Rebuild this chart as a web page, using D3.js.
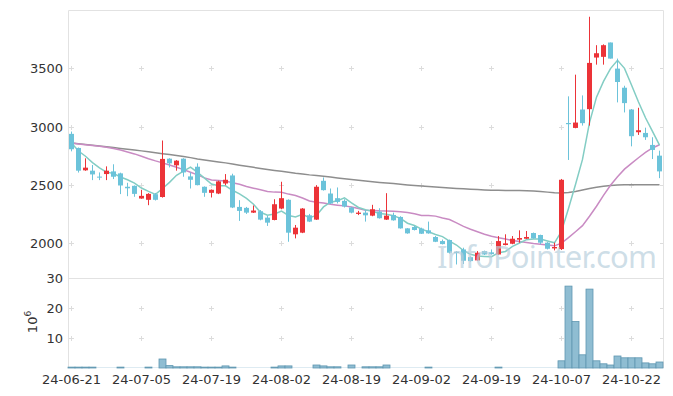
<!DOCTYPE html>
<html lang="en">
<head>
<meta charset="utf-8">
<title>Candles</title>
<style>
	body { margin: 0; background: #fff; font-family: "DejaVu Sans", sans-serif; }
	svg { display: block; }
	.tick-label { fill: #333; }
</style>
</head>
<body>
<svg></svg>
<script src="https://d3js.org/d3.v7.min.js"></script>
<script>
var dates = ["24-06-21","24-06-24","24-06-25","24-06-26","24-06-27","24-06-28","24-07-01","24-07-02","24-07-03","24-07-04",
	"24-07-05","24-07-08","24-07-09","24-07-10","24-07-11","24-07-12","24-07-15","24-07-16","24-07-17","24-07-18",
	"24-07-19","24-07-22","24-07-23","24-07-24","24-07-25","24-07-26","24-07-29","24-07-30","24-07-31","24-08-01",
	"24-08-02","24-08-05","24-08-06","24-08-07","24-08-08","24-08-09","24-08-12","24-08-13","24-08-14","24-08-16",
	"24-08-19","24-08-20","24-08-21","24-08-22","24-08-23","24-08-26","24-08-27","24-08-28","24-08-29","24-08-30",
	"24-09-02","24-09-03","24-09-04","24-09-05","24-09-06","24-09-09","24-09-10","24-09-11","24-09-12","24-09-13",
	"24-09-19","24-09-20","24-09-23","24-09-24","24-09-25","24-09-26","24-09-27","24-09-30","24-10-02","24-10-04",
	"24-10-07","24-10-08","24-10-10","24-10-11","24-10-14","24-10-15","24-10-16","24-10-17","24-10-18","24-10-21",
	"24-10-22","24-10-23","24-10-24","24-10-25","24-10-28"];

var open = [2937,2816,2624,2621,2570,2592,2615,2598,2483,2491,2382,2371,2419,2395,2724,2667,2724,2572,2655,2483,
	2431,2425,2511,2580,2310,2302,2261,2273,2218,2198,2296,2371,2075,2089,2238,2201,2534,2425,2385,2362,
	2305,2250,2261,2235,2270,2201,2241,2224,2126,2138,2124,2109,2052,2017,2026,1925,1945,1879,1851,1931,
	1920,1902,1983,1994,2029,2037,2086,2069,2003,1954,1948,3030,2988,3146,3149,3592,3598,3721,3497,3333,
	3146,2951,2945,2842,2750];
var high = [2957,2820,2727,2670,2606,2658,2676,2604,2517,2494,2457,2428,2430,2880,2728,2712,2728,2606,2684,2486,
	2460,2535,2592,2595,2368,2310,2322,2283,2233,2376,2526,2375,2155,2300,2250,2497,2563,2468,2477,2376,
	2310,2276,2282,2328,2299,2428,2261,2230,2128,2147,2132,2184,2060,2030,2030,1930,1960,1885,1931,1935,
	1945,2060,2075,2060,2109,2103,2090,2072,2008,2003,2550,3259,3445,3267,3942,3698,3705,3721,3583,3350,
	3150,3161,2990,2908,2793];
var low = [2787,2605,2620,2540,2540,2540,2549,2420,2402,2397,2380,2325,2365,2390,2649,2621,2569,2468,2495,2397,
	2391,2420,2497,2300,2190,2250,2258,2195,2147,2195,2290,2011,2040,2085,2180,2198,2450,2335,2340,2305,
	2255,2240,2184,2230,2210,2198,2192,2124,2080,2108,2078,2080,2008,1988,1910,1816,1820,1840,1848,1898,
	1900,1900,1980,1990,2003,2035,2038,1989,1945,1937,1940,2713,2985,3008,3008,3531,3531,3583,3207,3121,
	2830,2928,2885,2721,2557];
var close = [2805,2621,2647,2589,2562,2621,2569,2494,2470,2422,2405,2422,2371,2722,2684,2707,2606,2543,2497,2431,
	2457,2529,2543,2305,2276,2261,2279,2201,2175,2333,2385,2089,2132,2296,2184,2483,2454,2339,2353,2313,
	2261,2261,2238,2290,2213,2235,2195,2126,2083,2112,2080,2083,2011,1991,1917,1914,1848,1845,1917,1902,
	1905,2017,1997,2037,2043,2052,2040,2003,1951,1966,2543,3020,3034,3029,3546,3629,3698,3583,3382,3201,
	2917,2968,2908,2799,2615];

// volume in millions of shares
var volume = [0.3,0.3,0.3,0.3,0.1,0.1,0.1,0.3,0.1,0.1,0.1,0.3,0.1,3.0,0.8,0.4,0.4,0.4,0.4,0.3,
	0.3,0.3,0.7,0.3,0.1,0.1,0.1,0.1,0.1,0.3,0.7,0.7,0.1,0.1,0.1,1.0,0.7,0.4,0.4,0.1,
	1.0,0.1,0.4,0.4,0.4,1.0,0.1,0.1,0.1,0.1,0.1,0.3,0.1,0.1,0.1,0.1,0.1,0.1,0.1,0.1,
	0.1,0.3,0.1,0.1,0.1,0.1,0.1,0.1,0.1,0.1,2.4,27.3,15.5,4.4,26.3,2.4,1.4,1.0,4.0,3.4,
	3.4,3.4,1.7,1.4,2.0];

var ma5 = [2858,2790,2745,2690,2645,2608,2598,2567,2543,2515,2472,2443,2418,2468,2521,2581,2618,2652,2607,2557,
	2507,2491,2491,2453,2422,2383,2333,2264,2238,2250,2275,2237,2223,2247,2217,2237,2310,2351,2363,2388,
	2344,2305,2285,2273,2253,2247,2234,2212,2170,2150,2119,2097,2074,2055,2016,1983,1936,1903,1888,1885,
	1883,1917,1928,1972,2000,2029,2034,2035,2018,2002,2101,2297,2503,2718,3034,3252,3387,3497,3568,3499,
	3356,3210,3075,2959,2841];
var ma20 = [2858,2851,2844,2837,2830,2822,2812,2798,2782,2765,2745,2724,2705,2688,2670,2650,2630,2608,2585,2559,
	2542,2537,2532,2518,2504,2486,2471,2457,2442,2437,2436,2420,2408,2386,2361,2350,2343,2332,2325,2319,
	2310,2296,2281,2280,2277,2276,2272,2268,2263,2252,2237,2237,2231,2215,2202,2173,2143,2118,2097,2076,
	2058,2046,2034,2021,2013,2004,1996,1990,1983,1976,1999,2046,2097,2149,2230,2316,2409,2496,2569,2634,
	2684,2732,2778,2816,2844];
var ma60 = [2858,2852,2846,2840,2833,2826,2819,2812,2805,2798,2791,2783,2775,2767,2760,2752,2743,2733,2722,2713,
	2705,2696,2688,2678,2668,2659,2650,2640,2631,2623,2616,2608,2599,2592,2585,2580,2574,2567,2559,2552,
	2545,2538,2532,2526,2520,2515,2510,2505,2499,2494,2489,2485,2480,2476,2472,2468,2465,2462,2459,2456,
	2454,2453,2452,2451,2450,2448,2446,2442,2437,2432,2430,2434,2442,2455,2468,2478,2487,2494,2498,2500,
	2501,2501,2501,2500,2500];

var priceTicks = [2000, 2500, 3000, 3500];
var volTicks = [10, 20, 30];
var dateTicks = ["24-06-21","24-07-05","24-07-19","24-08-02","24-08-19","24-09-02","24-09-19","24-10-07","24-10-22"];

(function() {
	var width = 673, height = 396;
	var left = 68, right = 663, top = 10, priceBottom = 278, volTop = 278, volBottom = 368;

	var svg = d3.select("svg").attr("width", width).attr("height", height);

	var x = d3.scaleBand().domain(dates).range([left, right]).padding(0);
	var bw = x.bandwidth();
	var cx = function(i) { return x(dates[i]) + bw / 2; };

	var y = d3.scaleLinear().domain([1700, 4000]).range([priceBottom, top]);
	var yv = d3.scaleLinear().domain([0, 30]).range([volBottom, volTop]);

	var gridColor = "#dcdcdc";

	// "+" markers at grid crossings
	function crosses(g, ys) {
		dateTicks.forEach(function(t) {
			ys.forEach(function(yy) {
				var xx = x(t) + bw / 2;
				g.append("path")
					.attr("d", "M" + (xx - 2.5) + "," + yy + "H" + (xx + 2.5) + "M" + xx + "," + (yy - 2.5) + "V" + (yy + 2.5))
					.attr("stroke", gridColor).attr("stroke-width", 1);
			});
		});
		ys.forEach(function(yy) {
			g.append("path").attr("d", "M" + left + "," + yy + "H" + (left + 3))
				.attr("stroke", gridColor);
			g.append("path").attr("d", "M" + (right - 3) + "," + yy + "H" + right)
				.attr("stroke", gridColor);
		});
	}

	var grid = svg.append("g").attr("class", "grid");
	crosses(grid, priceTicks.map(function(d) { return Math.round(y(d)) + 0.5; }));
	crosses(grid, [10, 20].map(function(d) { return Math.round(yv(d)) + 0.5; }));

	// frame
	svg.append("path")
		.attr("d", "M" + (left + 0.5) + "," + volBottom + "V" + (top + 0.5) + "H" + (right + 0.5) + "V" + volBottom)
		.attr("fill", "none").attr("stroke", "#e2e2e2");
	svg.append("path")
		.attr("d", "M" + left + "," + (volTop + 0.5) + "H" + right)
		.attr("stroke", "#e2e2e2");

	// y axis labels
	svg.append("g").selectAll("text")
		.data(priceTicks).enter().append("text")
		.attr("class", "tick-label")
		.attr("x", left - 5)
		.attr("y", function(d) { return y(d) + 5; })
		.attr("text-anchor", "end")
		.style("font-size", "13px")
		.text(function(d) { return d; });

	svg.append("g").selectAll("text")
		.data(volTicks).enter().append("text")
		.attr("class", "tick-label")
		.attr("x", left - 5)
		.attr("y", function(d) { return yv(d) + 5; })
		.attr("text-anchor", "end")
		.style("font-size", "13px")
		.text(function(d) { return d; });

	svg.append("text")
		.attr("class", "tick-label")
		.attr("transform", "translate(37,322) rotate(-90)")
		.attr("text-anchor", "middle")
		.style("font-size", "13px")
		.html('10<tspan dy="-6" font-size="9px">6</tspan>');

	// x axis labels
	svg.append("g").selectAll("text")
		.data(dateTicks).enter().append("text")
		.attr("class", "tick-label")
		.attr("x", function(d) { return x(d) + bw / 2; })
		.attr("y", 384)
		.attr("text-anchor", "middle")
		.style("font-size", "13px")
		.text(function(d) { return d; });

	// volume bars
	svg.append("g").selectAll("rect")
		.data(volume).enter().append("rect")
		.attr("x", function(d, i) { return x(dates[i]); })
		.attr("y", function(d) { return yv(d); })
		.attr("width", bw)
		.attr("height", function(d) { return yv(0) - yv(d); })
		.attr("fill", "#8fbdd2")
		.attr("stroke", function(d) { return yv(0) - yv(d) < 0.6 ? "none" : "#5f97b1"; })
		.attr("stroke-width", 0.8);

	// moving averages
	var line = function(arr) {
		return d3.line()
			.x(function(d, i) { return cx(i); })
			.y(function(d) { return y(d); })(arr);
	};
	svg.append("path").attr("d", line(ma60)).attr("fill", "none").attr("stroke", "#8e8e8e").attr("stroke-width", 1.5);
	svg.append("path").attr("d", line(ma20)).attr("fill", "none").attr("stroke", "#c98bc3").attr("stroke-width", 1.5);
	svg.append("path").attr("d", line(ma5)).attr("fill", "none").attr("stroke", "#83cdc4").attr("stroke-width", 1.5);

	// candles
	var up = "#ec3338", down = "#6cc3da";
	var candles = svg.append("g").selectAll("g")
		.data(dates).enter().append("g");

	candles.append("line")
		.attr("x1", function(d, i) { return cx(i); })
		.attr("x2", function(d, i) { return cx(i); })
		.attr("y1", function(d, i) { return y(high[i]); })
		.attr("y2", function(d, i) { return y(low[i]); })
		.attr("stroke", function(d, i) { return close[i] >= open[i] ? up : down; })
		.attr("stroke-width", 1);

	candles.append("rect")
		.attr("x", function(d, i) { return cx(i) - 2.5; })
		.attr("y", function(d, i) { return y(Math.max(open[i], close[i])); })
		.attr("width", 5)
		.attr("height", function(d, i) { return Math.max(1, Math.abs(y(open[i]) - y(close[i]))); })
		.attr("fill", function(d, i) { return close[i] >= open[i] ? up : down; });

	// watermark
	svg.append("text")
		.attr("x", 437)
		.attr("y", 268)
		.attr("textLength", 220)
		.style("font-family", "'Noto Sans', sans-serif")
		.style("font-size", "31px")
		.attr("fill", "#b9cfdd")
		.attr("fill-opacity", 0.7)
		.text("InfoPointer.com");
})();
</script>
</body>
</html>
